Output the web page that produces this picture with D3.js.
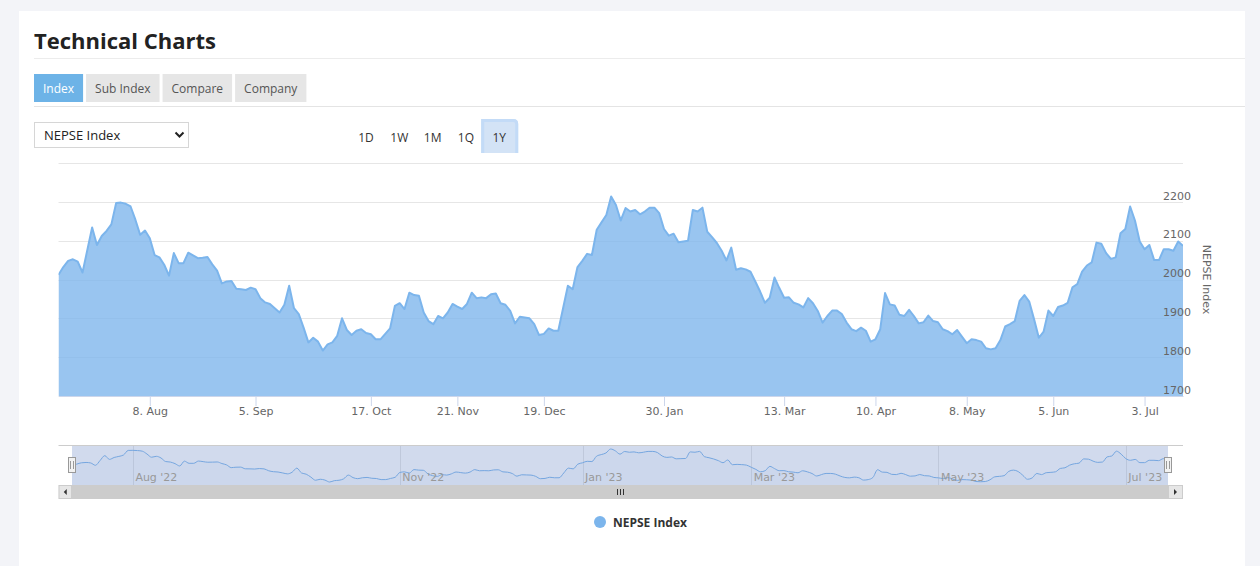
<!DOCTYPE html>
<html><head><meta charset="utf-8">
<script src="https://cdn.jsdelivr.net/npm/d3@7"></script>
<style>
html,body{margin:0;padding:0;background:#f3f4f8;}
svg{display:block;}
</style></head><body>
<svg id="c" width="1260" height="566"></svg>
<script>
// ---------- DATA ----------
const seriesName = 'NEPSE Index';
const values = [
2012,2032,2048,2052,2046,2018,2076,2134,2089,2112,
2125,2142,2197,2198,2195,2188,2154,2115,2126,2106,
2063,2057,2038,2010,2068,2042,2042,2069,2062,2055,
2056,2058,2039,2023,1990,1995,1996,1976,1975,1973,
1979,1975,1952,1941,1937,1926,1915,1935,1984,1926,
1911,1876,1838,1850,1840,1817,1833,1838,1855,1900,
1870,1857,1868,1872,1862,1859,1846,1846,
1860,1874,1932,1939,1924,1966,1960,1958,1915,1893,
1885,1906,1900,1915,1937,1930,1924,1937,1966,1952,
1954,1952,1962,1964,1939,1935,1919,1887,1904,1902,
1900,1885,1857,1860,1874,1868,1868,1926,1984,1975,
2032,2048,2066,2063,2128,2147,2166,2214,2192,2152,
2184,2175,2179,2168,2175,2185,2185,2171,2130,2113,
2118,2096,2098,2100,2179,2175,
2185,2123,2109,2094,2074,2049,2082,2025,2029,2026,
2020,1995,1969,1940,1953,2005,1978,1953,1954,1940,
1936,1928,1952,1939,1919,1889,1906,1920,1920,1911,
1889,1872,1867,1876,1868,1840,1846,1872,1965,1936,
1933,1909,1906,1922,1906,1887,1890,1907,1893,1890,
1872,1867,1859,1870,1853,1836,1846,1844,1840,1823,
1820,1823,1844,1879,1885,1893,1945,
1960,1943,1898,1850,1866,1920,1906,1929,1933,1940,
1980,1988,2020,2036,2044,2095,2092,2068,2053,2057,
2119,2130,2188,2152,2098,2078,2089,2050,2050,2078,
2078,2074,2098,2087
];
const xTickLabels = ['8. Aug','5. Sep','17. Oct','21. Nov','19. Dec','30. Jan','13. Mar','10. Apr','8. May','5. Jun','3. Jul'];
const xTickIndex  = [19,41,65,83,101,126,151,170,189,207,226];
const yTicks = [1700,1800,1900,2000,2100,2200,2300];
const yLabelTicks = [1700,1800,1900,2000,2100,2200];
const navLabels = ["Aug '22","Nov '22","Jan '23","Mar '23","May '23","Jul '23"];
const navIndex  = [13,70,109,145,185,225];
const tabs = ['Index','Sub Index','Compare','Company'];
const ranges = ['1D','1W','1M','1Q','1Y'];
const pageTitle = 'Technical Charts';

// ---------- STYLE / LAYOUT ----------
const UI = "'Open Sans', sans-serif";
const CH = "'DejaVu Sans', sans-serif";
const COLOR = '#7cb5ec';
const plot = {l:58.5, r:1183, t:163, b:396};
const nav = {l:72, r:1168, t:445, b:485};

const svg = d3.select('#c');

// card
svg.append('rect').attr('x',19).attr('y',11).attr('width',1226).attr('height',600).attr('fill','#fff');

// title
svg.append('text').attr('x',34).attr('y',48.5).text(pageTitle)
  .attr('font-family',UI).attr('font-weight',700).attr('font-size',22).attr('fill','#222');
svg.append('line').attr('x1',34).attr('x2',1245).attr('y1',58.5).attr('y2',58.5).attr('stroke','#ececec');

// tabs
let tx = 34;
tabs.forEach((t,i)=>{
  const g = svg.append('g');
  const r = g.append('rect').attr('y',74).attr('height',28).attr('fill', i===0?'#6db3e7':'#e6e6e6');
  const txt = g.append('text').text(t).attr('y',92.5).attr('font-family',UI).attr('font-size',12)
     .attr('fill', i===0?'#fff':'#555').attr('text-anchor','middle');
  const w = txt.node().getComputedTextLength() + 18;
  r.attr('x',tx).attr('width',w);
  txt.attr('x',tx + w/2);
  tx += w + 3;
});
svg.append('line').attr('x1',34).attr('x2',1245).attr('y1',106.5).attr('y2',106.5).attr('stroke','#e4e4e4');

// select
svg.append('rect').attr('x',34.5).attr('y',122.5).attr('width',154).attr('height',25)
  .attr('fill','#fff').attr('stroke','#d6d6d6');
svg.append('text').attr('x',44).attr('y',140).text(seriesName)
  .attr('font-family',UI).attr('font-size',13).attr('fill','#222');
svg.append('path').attr('d','M175.5,132.5 L179.5,136.5 L183.5,132.5').attr('fill','none')
  .attr('stroke','#222').attr('stroke-width',2);

// range buttons
ranges.forEach((r,i)=>{
  const cx = 366 + i*33.3;
  if (i === ranges.length-1) {
    svg.append('path')
      .attr('d',`M${cx-18},153 L${cx-18},119 L${cx+14},119 Q${cx+19},119 ${cx+19},124 L${cx+19},153 Z`)
      .attr('fill','#d3e3f6');
    svg.append('path')
      .attr('d',`M${cx-16.5},153 L${cx-16.5},120.5 L${cx+14},120.5 Q${cx+17.5},120.5 ${cx+17.5},124 L${cx+17.5},153`)
      .attr('fill','none').attr('stroke','#c3dbf7').attr('stroke-width',3);
  }
  svg.append('text').attr('x',cx).attr('y',141.5).text(r).attr('text-anchor','middle')
    .attr('font-family',UI).attr('font-size',12).attr('fill','#333');
});

// ---------- MAIN CHART ----------
const x = d3.scaleLinear().domain([0, values.length-1]).range([plot.l, plot.r]);
const y = d3.scaleLinear().domain([1700, 2300]).range([plot.b, plot.t]);

// gridlines
svg.append('g').selectAll('line').data(yTicks).join('line')
  .attr('x1',plot.l).attr('x2',plot.r)
  .attr('y1',d=>Math.round(y(d))+0.5).attr('y2',d=>Math.round(y(d))+0.5)
  .attr('stroke','#e6e6e6');

svg.append('defs').append('clipPath').attr('id','pc').append('rect')
  .attr('x',plot.l).attr('y',plot.t-5).attr('width',plot.r-plot.l).attr('height',plot.b-plot.t+5);

const area = d3.area().x((d,i)=>x(i)).y0(plot.b).y1(d=>y(d));
const line = d3.line().x((d,i)=>x(i)).y(d=>y(d));
const pg = svg.append('g').attr('clip-path','url(#pc)');
pg.append('path').datum(values).attr('d',area).attr('fill',COLOR).attr('fill-opacity',0.78);
pg.append('path').datum(values).attr('d',line).attr('fill','none').attr('stroke',COLOR)
  .attr('stroke-width',2).attr('stroke-linejoin','round');

// x axis
const xAxis = d3.axisBottom(x).tickValues(xTickIndex)
  .tickFormat((d,i)=>xTickLabels[i]).tickSize(10).tickSizeOuter(0);
const xg = svg.append('g').attr('transform',`translate(0,${plot.b})`).call(xAxis);
xg.select('.domain').attr('stroke','#ccd6eb');
xg.selectAll('.tick line').attr('stroke','#ccd6eb');
xg.selectAll('.tick text').attr('font-family',CH).attr('font-size',11).attr('fill','#666').attr('dy','0.55em');

// y axis labels (right side, above gridline)
const yAxis = d3.axisRight(y).tickValues(yLabelTicks).tickSize(0).tickFormat(d3.format('d'));
const yg = svg.append('g').attr('transform',`translate(${plot.r-20},0)`).call(yAxis);
yg.select('.domain').remove();
yg.selectAll('.tick text').attr('font-family',CH).attr('font-size',11).attr('fill','#666')
  .attr('x',0).attr('dy','-0.25em');

// y axis title
svg.append('text').attr('transform',`translate(1203,${y(2000)}) rotate(90)`)
  .attr('text-anchor','middle').text(seriesName)
  .attr('font-family',CH).attr('font-size',11).attr('fill','#666');

// ---------- NAVIGATOR ----------
const nx = d3.scaleLinear().domain([0, values.length-1]).range([nav.l, nav.r]);
const ny = d3.scaleLinear().domain(d3.extent(values)).range([nav.b-3, nav.t+4]);

svg.append('g').selectAll('line').data(navIndex).join('line')
  .attr('x1',d=>Math.round(nx(d))+0.5).attr('x2',d=>Math.round(nx(d))+0.5)
  .attr('y1',nav.t).attr('y2',nav.b).attr('stroke','#e6e6e6');

const narea = d3.area().curve(d3.curveMonotoneX).x((d,i)=>nx(i)).y0(nav.b).y1(d=>ny(d));
const nline = d3.line().curve(d3.curveMonotoneX).x((d,i)=>nx(i)).y(d=>ny(d));
svg.append('path').datum(values).attr('d',narea).attr('fill',COLOR).attr('fill-opacity',0.05);
svg.append('path').datum(values).attr('d',nline).attr('fill','none').attr('stroke',COLOR).attr('stroke-width',1);

// mask
svg.append('rect').attr('x',nav.l).attr('y',nav.t).attr('width',nav.r-nav.l).attr('height',nav.b-nav.t)
  .attr('fill','rgba(102,133,194,0.3)');
// outline
svg.append('line').attr('x1',plot.l).attr('x2',plot.r).attr('y1',nav.t+0.5).attr('y2',nav.t+0.5).attr('stroke','#cccccc');

// nav labels
svg.append('g').selectAll('text').data(navLabels).join('text')
  .attr('x',(d,i)=>nx(navIndex[i])+2.5).attr('y',nav.b-4).text(d=>d)
  .attr('font-family',CH).attr('font-size',11).attr('fill','#999');

// scrollbar
const sbT = nav.b, sbH = 14;
svg.append('rect').attr('x',plot.l).attr('y',sbT).attr('width',plot.r-plot.l).attr('height',sbH).attr('fill','#f2f2f2');
svg.append('rect').attr('x',nav.l).attr('y',sbT).attr('width',nav.r-nav.l).attr('height',sbH).attr('fill','#cccccc');
[[plot.l, nav.l],[nav.r, plot.r]].forEach(([a,b],k)=>{
  svg.append('rect').attr('x',a+0.5).attr('y',sbT+0.5).attr('width',b-a-1).attr('height',sbH-1)
    .attr('fill','#e6e6e6').attr('stroke','#cccccc');
  const cx = (a+b)/2, cy = sbT+sbH/2;
  const d = k===0 ? `M${cx+1.5},${cy-3} L${cx-1.5},${cy} L${cx+1.5},${cy+3} Z`
                  : `M${cx-1.5},${cy-3} L${cx+1.5},${cy} L${cx-1.5},${cy+3} Z`;
  svg.append('path').attr('d',d).attr('fill','#333');
});
const rc = (nav.l+nav.r)/2;
[-3,0,3].forEach(o=>{
  svg.append('line').attr('x1',Math.round(rc+o)+0.5).attr('x2',Math.round(rc+o)+0.5)
    .attr('y1',sbT+4).attr('y2',sbT+sbH-4).attr('stroke','#333');
});

// handles
[nav.l, nav.r].forEach(hx=>{
  const cy = (nav.t+nav.b)/2;
  const X = Math.round(hx);
  svg.append('rect').attr('x',X-3.5).attr('y',cy-7.5).attr('width',7).attr('height',15)
    .attr('fill','#f2f2f2').attr('stroke','#999');
  [-1,1].forEach(o=>svg.append('line').attr('x1',X+o+0.5*o).attr('x2',X+o+0.5*o)
    .attr('y1',cy-4).attr('y2',cy+4).attr('stroke','#999'));
});

// ---------- LEGEND ----------
svg.append('circle').attr('cx',600).attr('cy',522).attr('r',6).attr('fill',COLOR);
svg.append('text').attr('x',613).attr('y',526.5).text(seriesName)
  .attr('font-family',UI).attr('font-weight',700).attr('font-size',12).attr('fill','#333');
</script>
</body></html>
